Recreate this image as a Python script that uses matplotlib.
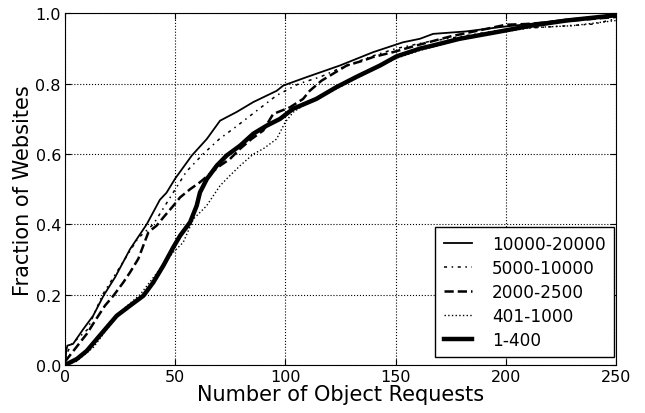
import numpy as np
import matplotlib
matplotlib.use('Agg')
from matplotlib import pyplot as plt

# CDF curves (x = object requests, y = fraction)
labels = ['10000-20000', '5000-10000', '2000-2500', '401-1000', '1-400']

x_10k = [0, 0.5, 1, 3.6, 8, 12.7, 17.4, 22.7, 29.5, 37, 43, 46, 49.9, 57.5, 64.3, 70.3, 77.9,
         85.4, 96, 99, 109.6, 124.7, 139.8, 153.3, 161, 167, 182, 197, 212, 227.5, 250]
y_10k = [0.0, 0.04, 0.055, 0.06, 0.1, 0.14, 0.197, 0.25, 0.33, 0.4, 0.47, 0.49, 0.53, 0.596, 0.643,
         0.695, 0.72, 0.748, 0.78, 0.795, 0.819, 0.852, 0.89, 0.918, 0.928, 0.942, 0.949, 0.961,
         0.971, 0.983, 0.995]

x_5k = [0, 0.5, 3, 10, 17, 25, 33, 40, 48, 55, 62.6, 70, 78, 85, 96, 106, 116, 125, 140, 150,
        165, 180, 200, 220, 240, 250]
y_5k = [0.0, 0.03, 0.06, 0.1, 0.2, 0.28, 0.36, 0.4, 0.48, 0.55, 0.6, 0.643, 0.68, 0.714, 0.767,
        0.8, 0.82, 0.845, 0.88, 0.9, 0.92, 0.935, 0.955, 0.962, 0.97, 0.985]

x_2k = [0, 5, 10, 13.6, 18.1, 21.9, 26.4, 29.5, 33.2, 35.5, 37.8, 41.6, 44.6, 49.1, 52.2, 56.7,
        61.2, 65.8, 70.3, 74.8, 79.4, 84.6, 89.9, 94.4, 102, 108, 111, 116.4, 127.8, 135.3,
        139.7, 148.8, 160, 175, 191, 200, 209, 230, 250]
y_2k = [0.01, 0.05, 0.09, 0.126, 0.169, 0.197, 0.235, 0.264, 0.302, 0.34, 0.378, 0.397, 0.42,
        0.453, 0.477, 0.5, 0.52, 0.544, 0.567, 0.586, 0.615, 0.643, 0.667, 0.714, 0.733, 0.757,
        0.78, 0.809, 0.852, 0.866, 0.876, 0.89, 0.91, 0.935, 0.956, 0.968, 0.97, 0.98, 0.99]

x_401 = [0, 5, 12.8, 20, 26.4, 34, 43, 49, 53.6, 58.2, 64.2, 70.3, 74.8, 79.4, 85.4, 89.9, 96,
         99.8, 103.5, 108, 123, 132, 143, 150, 161, 179, 196, 212, 230, 250]
y_401 = [0.0, 0.01, 0.05, 0.11, 0.159, 0.2, 0.273, 0.32, 0.349, 0.415, 0.453, 0.51, 0.539, 0.567,
         0.6, 0.615, 0.643, 0.69, 0.719, 0.738, 0.785, 0.815, 0.85, 0.872, 0.895, 0.925, 0.945,
         0.96, 0.965, 0.98]

x_1 = [0, 5.3, 9.8, 14.4, 18.9, 23.4, 29.5, 35.5, 40, 44.6, 49.1, 52.2, 56.7, 59.7, 61.2, 64.3,
       68.8, 73.3, 79.4, 85.4, 91.5, 97.5, 103.5, 114, 123, 132, 142.9, 150.4, 161, 167, 179,
       195.8, 212, 227.5, 250]
y_1 = [0.0, 0.017, 0.04, 0.074, 0.107, 0.14, 0.169, 0.197, 0.235, 0.283, 0.335, 0.368, 0.406,
       0.453, 0.491, 0.529, 0.567, 0.596, 0.624, 0.658, 0.681, 0.7, 0.729, 0.757, 0.79, 0.819,
       0.852, 0.878, 0.9, 0.909, 0.928, 0.947, 0.966, 0.98, 0.995]

plt.rcParams['font.family'] = ['DejaVu Sans']
plt.rcParams['xtick.direction'] = 'in'
plt.rcParams['ytick.direction'] = 'in'

fig = plt.figure(figsize=(6.45, 4.14), dpi=100)
ax = fig.add_axes([0.101, 0.116, 0.854, 0.849])

ax.plot(x_10k, y_10k, color='k', linestyle='-', lw=1.3, label=labels[0])
ax.plot(x_5k, y_5k, color='k', linestyle=(0, (2, 3, 1, 3)), lw=1.1, label=labels[1])
ax.plot(x_2k, y_2k, color='k', linestyle='--', lw=1.8, label=labels[2])
ax.plot(x_401, y_401, color='k', linestyle=':', lw=1.0, label=labels[3])
ax.plot(x_1, y_1, color='k', linestyle='-', lw=3.2, label=labels[4])

ax.set_xlim(0, 250)
ax.set_ylim(0, 1.0)
ax.set_xticks([0, 50, 100, 150, 200, 250])
ax.set_yticks([0.0, 0.2, 0.4, 0.6, 0.8, 1.0])
ax.tick_params(labelsize=11.5, top=True, right=True, length=4, pad=3)
ax.grid(True, color='k', linestyle=':', lw=0.8)

ax.set_xlabel('Number of Object Requests', fontsize=15, labelpad=0)
ax.set_ylabel('Fraction of Websites', fontsize=15, labelpad=2)

leg = ax.legend(loc='lower right', bbox_to_anchor=(0.997, 0.022), fontsize=12.2,
                fancybox=False, framealpha=1, edgecolor='k', handlelength=1.65,
                handletextpad=1.2, borderaxespad=0, borderpad=0.5, labelspacing=0.35)
leg.get_frame().set_linewidth(1.0)

fig.savefig('out.png', dpi=100)
